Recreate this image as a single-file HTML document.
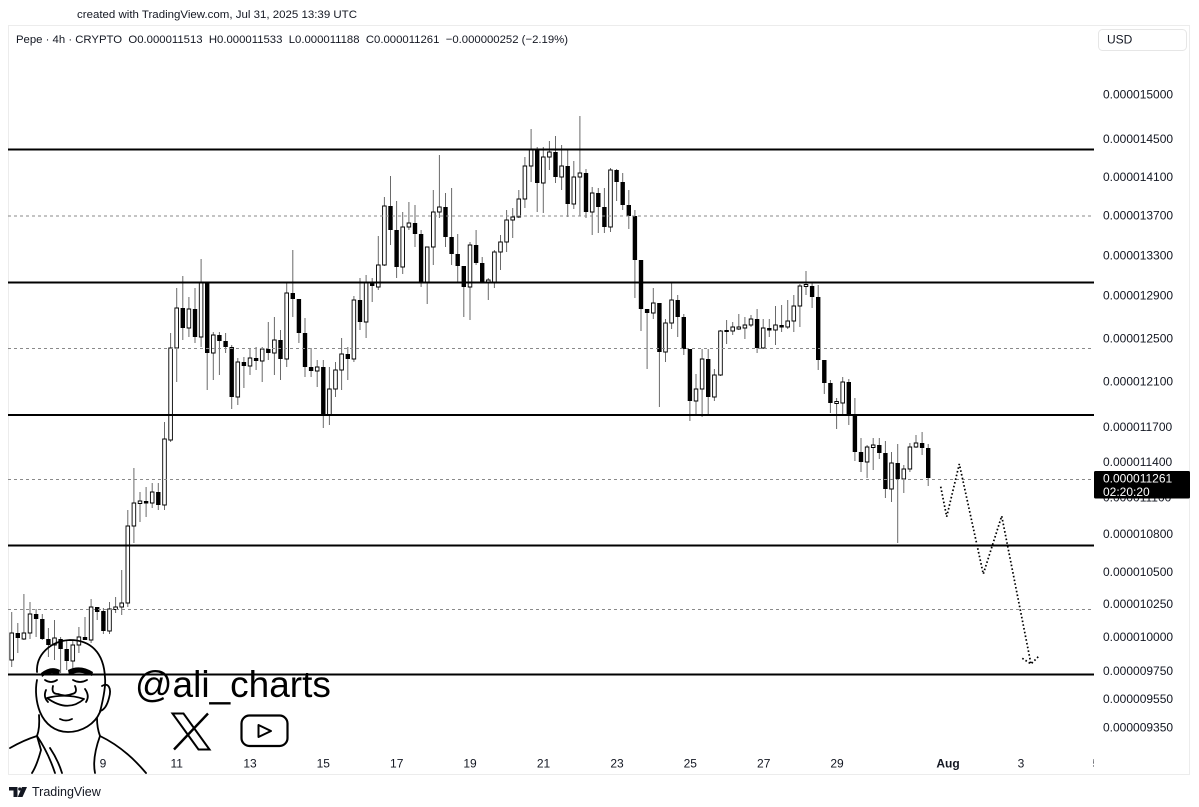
<!DOCTYPE html>
<html><head><meta charset="utf-8"><style>
html,body{margin:0;padding:0;background:#fff;}
svg{display:block;font-family:"Liberation Sans",Arial,sans-serif;}
</style></head><body>
<svg width="1199" height="807" viewBox="0 0 1199 807" xmlns="http://www.w3.org/2000/svg">
<rect x="0" y="0" width="1199" height="807" fill="#fff"/>
<defs><clipPath id="cl"><rect x="8" y="25" width="1086" height="750"/></clipPath></defs>
<rect x="8.5" y="25.5" width="1181" height="749" fill="#fff" stroke="#ececec"/>
<text x="77" y="18" font-size="11.3" fill="#131722" textLength="280" lengthAdjust="spacingAndGlyphs">created with TradingView.com, Jul 31, 2025 13:39 UTC</text>
<text x="16" y="43" font-size="11.3" fill="#131722" style="white-space:pre" textLength="552" lengthAdjust="spacingAndGlyphs">Pepe · 4h · CRYPTO  O0.000011513  H0.000011533  L0.000011188  C0.000011261  −0.000000252 (−2.19%)</text>
<rect x="1098.5" y="29.5" width="88" height="21" rx="4" fill="#fff" stroke="#e6e6e6"/>
<text x="1107" y="43.5" font-size="12" fill="#131722">USD</text>

<!-- wicks -->
<path fill="none" stroke="#6a6a6a" stroke-width="1" d="M11.7 612V667M17.8 623V653M23.9 594V640M30 602V639M36.1 609V637M42.3 614V640M48.4 628V657M54.5 620V660M60.6 637V673M66.7 640V670M72.8 640V670M78.9 627V653M85 617V640M91.1 599V643M97.2 607V620M103.4 608V634M109.5 602V634M115.6 597V613M121.7 570V615M127.8 510V607M133.9 468V543M140 492V522M146.1 487V517M152.2 483V508M158.3 483V510M164.5 422V510M170.6 333V442M176.7 288V382M182.8 276V340M188.9 297V337M195 288V343M201.1 259V347M207.2 283V390M213.3 332V380M219.4 332V375M225.6 333V353M231.7 345V409M237.8 358V405M243.9 357V388M250 348V375M256.1 347V370M262.2 347V382M268.3 322V360M274.4 317V375M280.5 330V380M286.7 283V367M292.8 250V317M298.9 299V343M305 318V377M311.1 348V377M317.2 360V387M323.3 360V428M329.4 367V425M335.5 362V397M341.6 338V390M347.8 347V380M353.9 296V362M360 278V330M366.1 275V338M372.2 278V302M378.3 236V290M384.4 197V266M390.5 176V245M396.6 201V278M402.7 212V274M408.9 202V230M415 205V247M421.1 230V287M427.2 247V304M433.3 190V265M439.4 155V218M445.5 193V247M451.6 188V265M457.7 234V282M463.8 266V317M470 242V320M476.1 230V265M482.2 257V283M488.3 278V300M494.4 250V288M500.5 235V270M506.6 210V252M512.7 208V238M518.8 190V218M524.9 157V208M531.1 129V182M537.2 147V212M543.3 147V213M549.4 141V170M555.5 136V183M561.6 145V190M567.7 150V217M573.8 161V209M579.9 116V216M586 169V218M592.2 187V235M598.3 188V233M604.4 188V233M610.5 168V232M616.6 169V201M622.7 173V210M628.8 190V229M634.9 210V298M641 260V331M647.1 309V369M653.3 288V319M659.4 303V407M665.5 319V362M671.6 282V329M677.7 295V337M683.8 314V355M689.9 349V421M696 374V416M702.1 349V417M708.2 349V415M714.4 369V401M720.5 330V376M726.6 320V344M732.7 322V335M738.8 314V330M744.9 317V339M751 315V327M757.1 309V353M763.2 319V349M769.3 319V337M775.5 306V345M781.6 305V332M787.7 300V329M793.8 295V332M799.9 284V327M806 271V295M812.1 283V308M818.2 285V370M824.3 360V394M830.4 380V413M836.6 398V429M842.7 377V415M848.8 379V425M854.9 398V461M861 438V472M867.1 445V478M873.2 438V470M879.3 438V459M885.4 441V498M891.5 452V502M897.7 444V543M903.8 465V493M909.9 443V472M916 435V448M922.1 432V455M928.2 444V486"/>

<!-- bearish bodies -->
<path fill="#000" d="M15.6 633h4.4V638h-4.4ZM33.9 614h4.4V619h-4.4ZM40.1 619h4.4V639h-4.4ZM46.2 639h4.4V645h-4.4ZM58.4 639h4.4V649h-4.4ZM64.5 649h4.4V661h-4.4ZM82.8 637h4.4V640h-4.4ZM95 607h4.4V612h-4.4ZM101.2 611h4.4V631h-4.4ZM143.9 501h4.4V503.5h-4.4ZM156.1 492h4.4V505h-4.4ZM180.6 308h4.4V328h-4.4ZM192.8 309h4.4V337h-4.4ZM205 283h4.4V353h-4.4ZM217.2 335h4.4V341h-4.4ZM223.4 341h4.4V347h-4.4ZM229.5 347h4.4V397h-4.4ZM241.7 362h4.4V366h-4.4ZM253.9 358h4.4V361h-4.4ZM266.1 349h4.4V353h-4.4ZM278.3 340h4.4V359h-4.4ZM290.6 293h4.4V299h-4.4ZM296.7 299h4.4V333h-4.4ZM302.8 333h4.4V367h-4.4ZM308.9 367h4.4V371h-4.4ZM321.1 367h4.4V415h-4.4ZM345.6 354h4.4V359h-4.4ZM357.8 300h4.4V322h-4.4ZM370 283h4.4V286h-4.4ZM388.3 206h4.4V230h-4.4ZM394.4 230h4.4V267h-4.4ZM412.8 223h4.4V234h-4.4ZM418.9 234h4.4V283h-4.4ZM443.3 207h4.4V237h-4.4ZM449.4 237h4.4V254h-4.4ZM455.5 254h4.4V266h-4.4ZM461.6 266h4.4V287h-4.4ZM473.9 245h4.4V263h-4.4ZM480 263h4.4V283h-4.4ZM535 150h4.4V183h-4.4ZM553.3 152h4.4V177h-4.4ZM565.5 166h4.4V204h-4.4ZM583.8 173h4.4V212h-4.4ZM596.1 193h4.4V207h-4.4ZM602.2 207h4.4V227h-4.4ZM614.4 170h4.4V182h-4.4ZM620.5 182h4.4V205h-4.4ZM626.6 205h4.4V216h-4.4ZM632.7 216h4.4V260h-4.4ZM638.8 260h4.4V309h-4.4ZM644.9 309h4.4V313h-4.4ZM657.2 303h4.4V352h-4.4ZM675.5 300h4.4V317h-4.4ZM681.6 317h4.4V349h-4.4ZM687.7 349h4.4V401h-4.4ZM706 359h4.4V397h-4.4ZM724.4 330h4.4V332h-4.4ZM754.9 319h4.4V348h-4.4ZM767.1 328h4.4V330.5h-4.4ZM779.4 325h4.4V327.5h-4.4ZM809.9 286h4.4V297h-4.4ZM816 297h4.4V360h-4.4ZM822.1 360h4.4V383h-4.4ZM828.2 383h4.4V403h-4.4ZM846.6 382h4.4V415h-4.4ZM852.7 415h4.4V452h-4.4ZM858.8 452h4.4V462h-4.4ZM877.1 445h4.4V453h-4.4ZM883.2 453h4.4V489h-4.4ZM895.5 463h4.4V479h-4.4ZM919.9 443h4.4V448h-4.4ZM926 448h4.4V478h-4.4Z"/>

<!-- bullish bodies -->
<path fill="#fff" stroke="#000" stroke-width="0.9" d="M9.9 633h3.6V660h-3.6ZM22.1 633h3.6V639h-3.6ZM28.2 614h3.6V633h-3.6ZM52.7 638h3.6V645h-3.6ZM71 645h3.6V661h-3.6ZM77.1 637h3.6V645h-3.6ZM89.3 607h3.6V640h-3.6ZM107.7 609h3.6V631h-3.6ZM113.8 607h3.6V609.5h-3.6ZM119.9 603h3.6V607h-3.6ZM126 526h3.6V603h-3.6ZM132.1 503h3.6V526h-3.6ZM138.2 501h3.6V503.5h-3.6ZM150.4 492h3.6V503h-3.6ZM162.7 439h3.6V505h-3.6ZM168.8 348h3.6V440h-3.6ZM174.9 308h3.6V348h-3.6ZM187.1 309h3.6V328h-3.6ZM199.3 283h3.6V337h-3.6ZM211.5 335h3.6V353h-3.6ZM236 362h3.6V397h-3.6ZM248.2 358h3.6V366h-3.6ZM260.4 349h3.6V361h-3.6ZM272.6 340h3.6V353h-3.6ZM284.9 293h3.6V359h-3.6ZM315.4 367h3.6V371h-3.6ZM327.6 389h3.6V415h-3.6ZM333.7 370h3.6V389h-3.6ZM339.8 354h3.6V370h-3.6ZM352.1 300h3.6V359h-3.6ZM364.3 283h3.6V322h-3.6ZM376.5 265h3.6V287h-3.6ZM382.6 206h3.6V265h-3.6ZM400.9 227h3.6V267h-3.6ZM407.1 223h3.6V227h-3.6ZM425.4 247h3.6V283h-3.6ZM431.5 212h3.6V247h-3.6ZM437.6 207h3.6V212h-3.6ZM468.2 245h3.6V287h-3.6ZM486.5 280h3.6V283h-3.6ZM492.6 252h3.6V282h-3.6ZM498.7 242h3.6V252h-3.6ZM504.8 220h3.6V242h-3.6ZM510.9 217h3.6V220h-3.6ZM517 199h3.6V217h-3.6ZM523.1 166h3.6V199h-3.6ZM529.3 150h3.6V166h-3.6ZM541.5 157h3.6V183h-3.6ZM547.6 152h3.6V157h-3.6ZM559.8 166h3.6V177h-3.6ZM572 177h3.6V204h-3.6ZM578.1 173h3.6V177h-3.6ZM590.4 193h3.6V212h-3.6ZM608.7 170h3.6V227h-3.6ZM651.5 303h3.6V313h-3.6ZM663.7 323h3.6V352h-3.6ZM669.8 300h3.6V323h-3.6ZM694.2 389h3.6V401h-3.6ZM700.3 359h3.6V389h-3.6ZM712.6 375h3.6V397h-3.6ZM718.7 331h3.6V375h-3.6ZM730.9 327h3.6V331h-3.6ZM737 327h3.6V329h-3.6ZM743.1 325h3.6V328h-3.6ZM749.2 319h3.6V325h-3.6ZM761.4 328h3.6V348h-3.6ZM773.7 325h3.6V330h-3.6ZM785.9 321h3.6V327h-3.6ZM792 306h3.6V321h-3.6ZM798.1 286h3.6V306h-3.6ZM804.2 284.5h3.6V286.5h-3.6ZM834.8 401.5h3.6V403.5h-3.6ZM840.9 382h3.6V403h-3.6ZM865.3 447h3.6V462h-3.6ZM871.4 445h3.6V447.5h-3.6ZM889.7 463h3.6V489h-3.6ZM902 469h3.6V479h-3.6ZM908.1 447h3.6V469h-3.6ZM914.2 443h3.6V447h-3.6Z"/>

<!-- horizontal levels -->
<g stroke="#000" stroke-width="2">
<line x1="8" y1="149.5" x2="1094" y2="149.5"/>
<line x1="8" y1="282.5" x2="1094" y2="282.5"/>
<line x1="8" y1="415" x2="1094" y2="415"/>
<line x1="8" y1="545.5" x2="1094" y2="545.5"/>
<line x1="8" y1="674.5" x2="1094" y2="674.5"/>
</g>
<g stroke="#8a8a8a" stroke-width="1" stroke-dasharray="3 3">
<line x1="8" y1="216" x2="1094" y2="216"/>
<line x1="8" y1="348.5" x2="1094" y2="348.5"/>
<line x1="8" y1="479.5" x2="1094" y2="479.5"/>
<line x1="8" y1="609.5" x2="1094" y2="609.5"/>
</g>

<!-- projection -->
<path fill="none" stroke="#000" stroke-width="1.7" stroke-dasharray="1.6 2.2" d="M940.7 486.7L946.7 516.7L959.3 464L983.3 574L1001.7 516L1031 664M1022.3 658.3L1031 664L1038.3 656.7"/>

<!-- price axis labels -->
<g font-size="12" fill="#131722">
<text x="1103" y="98.3">0.000015000</text>
<text x="1103" y="142.8">0.000014500</text>
<text x="1103" y="180.8">0.000014100</text>
<text x="1103" y="219.3">0.000013700</text>
<text x="1103" y="259.3">0.000013300</text>
<text x="1103" y="299.3">0.000012900</text>
<text x="1103" y="342.3">0.000012500</text>
<text x="1103" y="385.3">0.000012100</text>
<text x="1103" y="430.8">0.000011700</text>
<text x="1103" y="465.8">0.000011400</text>
<text x="1103" y="501.3">0.000011100</text>
<text x="1103" y="537.8">0.000010800</text>
<text x="1103" y="575.8">0.000010500</text>
<text x="1103" y="607.8">0.000010250</text>
<text x="1103" y="641">0.000010000</text>
<text x="1103" y="675">0.000009750</text>
<text x="1103" y="702.8">0.000009550</text>
<text x="1103" y="731.3">0.000009350</text>
</g>
<rect x="1094" y="471" width="96" height="27.5" rx="1.5" fill="#000"/>
<text x="1103" y="482.6" font-size="12" fill="#fff">0.000011261</text>
<text x="1103" y="495.8" font-size="12" fill="#fff">02:20:20</text>

<!-- time axis -->
<g font-size="12" fill="#131722" text-anchor="middle" clip-path="url(#cl)">
<text x="103" y="767.3">9</text>
<text x="176.7" y="767.3">11</text>
<text x="250" y="767.3">13</text>
<text x="323.3" y="767.3">15</text>
<text x="396.7" y="767.3">17</text>
<text x="470" y="767.3">19</text>
<text x="543.5" y="767.3">21</text>
<text x="617" y="767.3">23</text>
<text x="690.3" y="767.3">25</text>
<text x="763.7" y="767.3">27</text>
<text x="837" y="767.3">29</text>
<text x="948" y="767.3" font-weight="bold">Aug</text>
<text x="1021" y="767.3">3</text>
<text x="1096" y="767.3">5</text>
</g>

<!-- avatar -->
<g fill="none" stroke="#000" stroke-width="1.8" stroke-linecap="round" stroke-linejoin="round">
<path d="M37,672 C36,655 50,641 70,640 C90,640 104,652 105,678 C106,686 103,700 100,712"/>
<path d="M102,686 C108,682 112,688 109,698 C107,706 104,710 100,711"/>
<path d="M100,712 C95,724 82,732 68,732 C55,732 45,724 40,712 C36,702 35,690 37,680"/>
<path d="M45,680 Q51,684 57,680 M73,680 Q80,684 87,680"/>
<path d="M53,686 Q51,694 58,694 Q65,697 72,694 Q78,693 75,686"/>
<path d="M46,690 Q43,697 48,702 M85,689 Q90,696 86,702"/>
<path d="M47,698 Q66,693 84,699 Q68,713 47,698 Z"/>
<path d="M60,719 Q66,722 72,719"/>
<path d="M39,715 Q40,728 37,736 M97,718 Q97,728 100,736"/>
<path d="M10,748 Q24,740 37,736 L41,750 Q37,765 32,773"/>
<path d="M37,736 Q48,752 55,773 M100,736 Q92,758 95,773 M100,736 Q125,748 146,773 M50,748 Q58,760 62,773"/>
</g>
<path fill="#000" d="M41,673 Q51,665 60,670 L59,675 Q50,671 42,677 Z M68,670 Q80,664 93,672 L92,676 Q80,670 69,675 Z"/>

<text x="135" y="697" font-size="37" fill="#000">@ali_charts</text>
<!-- X logo -->
<path d="M172.5,713.5 L183.5,713.5 L209.5,749.5 L198.5,749.5 Z" fill="none" stroke="#000" stroke-width="2"/>
<path d="M208,713.5 L174,749.5" stroke="#000" stroke-width="2.4"/>
<!-- YouTube -->
<rect x="241.5" y="715.5" width="46" height="30.5" rx="8" fill="none" stroke="#000" stroke-width="2.2"/>
<path d="M258.5,725 L258.5,737 L271,731 Z" fill="none" stroke="#000" stroke-width="2" stroke-linejoin="round"/>

<!-- footer logo -->
<path fill="#131722" d="M9,787 H17.5 V797 H13.5 V790.5 H9 Z M22,787 H27 L22.5,797 H17.8 Z"/>
<circle cx="19.8" cy="789" r="1.6" fill="#131722"/>
<text x="32" y="796" font-size="12.5" fill="#131722">TradingView</text>
</svg>
</body></html>
